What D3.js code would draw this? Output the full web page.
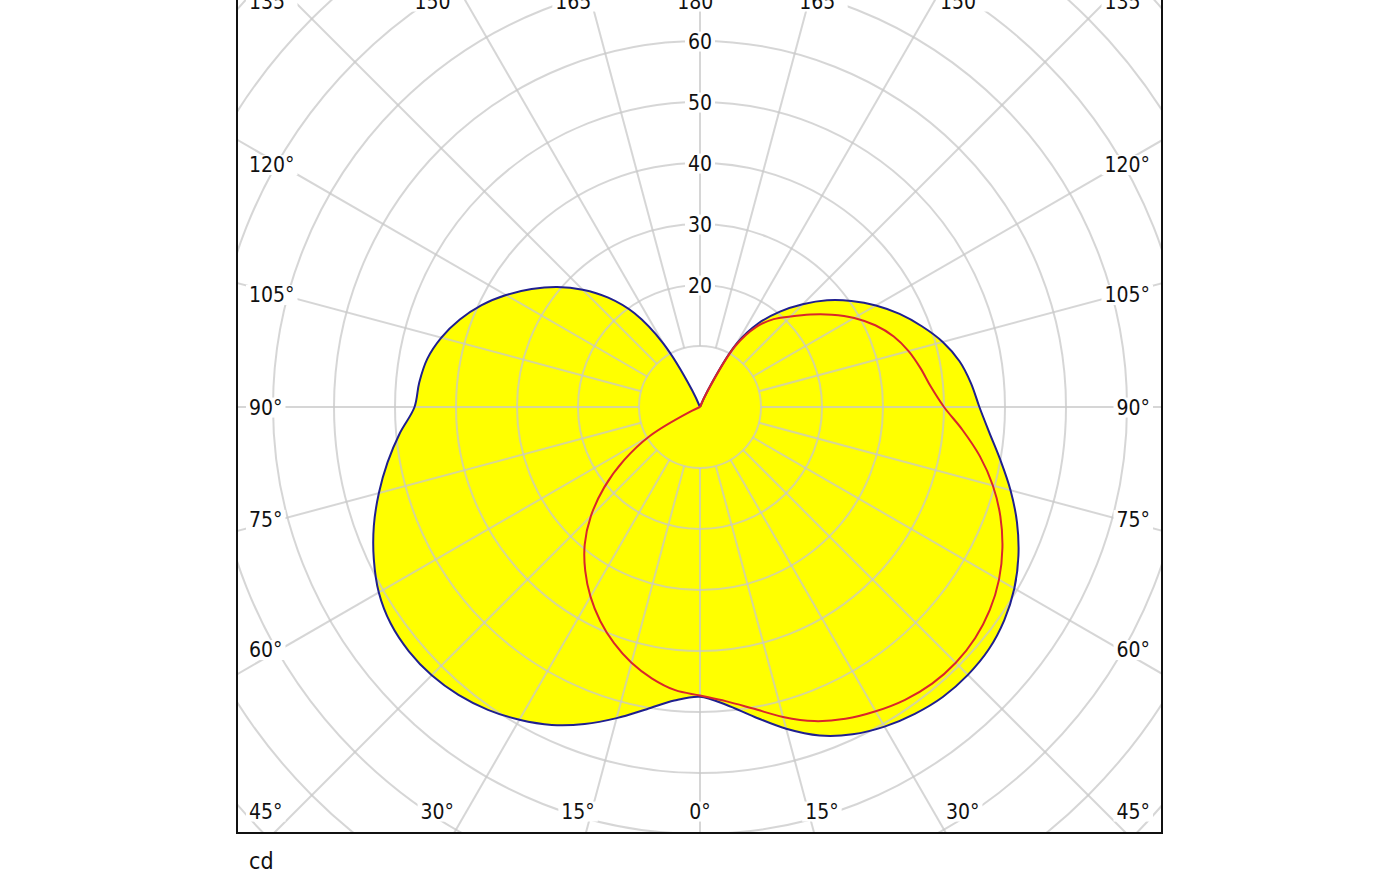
<!DOCTYPE html>
<html>
<head>
<meta charset="utf-8">
<script src="https://cdn.jsdelivr.net/npm/d3@7"></script>
<style>
  body { margin: 0; background: #fff; }
  svg text { font-family: "DejaVu Sans Condensed", "DejaVu Sans", sans-serif; font-stretch: condensed; fill: #111; }
</style>
</head>
<body>
<svg id="chart" width="1400" height="875"></svg>
<script>
// gamma angles (0 = straight down), degrees
const angles = [0, 5, 10, 15, 20, 25, 30, 35, 40, 45, 50, 55, 60, 65, 70, 75, 80, 85, 90,
  95, 100, 105, 110, 115, 120, 125, 130, 135, 140, 145, 150, 155, 160, 165, 170, 175, 180];
// blue plane, right half (cd)
const blueRight = [47.5, 49, 51.6, 54.6, 57.3, 59.2, 60.5, 61.4, 62, 62.1, 61.8, 60.9, 59.5, 57.6, 55.3, 52.7, 50, 47.6, 45.8,
  44.6, 43.2, 41.2, 38.7, 36.1, 33.3, 30.3, 27.2, 23.8, 20.4, 16.8, 12, 3, 0, 0, 0, 0, 0];
// blue plane, left half
const blueLeft = [47.5, 48.3, 50.3, 52.8, 55.3, 57.5, 59.2, 60.6, 61.6, 62.2, 62.3, 61.9, 60.8, 59, 56.9, 54.5, 52, 49.4, 46.8,
  46.2, 45.4, 43.9, 41.9, 39.5, 36.7, 33.7, 30.6, 27.2, 23.4, 18.8, 12, 3, 0, 0, 0, 0, 0];
// red plane, right half
const redRight = [47.3, 48.4, 50.2, 52.6, 54.8, 56.4, 57.6, 58.6, 59.2, 59.3, 58.9, 58, 56.6, 54.7, 52.4, 49.7, 46.6, 43.2, 40,
  38, 36.7, 35.4, 33.8, 31.7, 29.2, 26.4, 23.6, 21, 18.8, 16, 11.5, 2.5, 0, 0, 0, 0, 0];
// red plane, left half
const redLeft = [47.3, 46.6, 45.2, 43.4, 41.2, 38.7, 35.9, 32.8, 29.4, 25.3, 20.5, 15.2, 9.5, 1.5, 0, 0, 0, 0, 0,
  0, 0, 0, 0, 0, 0, 0, 0, 0, 0, 0, 0, 0, 0, 0, 0, 0, 0];
// rings and labels
const rings = [10, 20, 30, 40, 50, 60, 70, 80, 90, 100];
const ringLabels = [20, 30, 40, 50, 60];
const spokeAngles = d3.range(0, 360, 15);
const unit = 'cd';

const svg = d3.select('#chart');
const frame = { left: 237, right: 1162, top: -19, bottom: 833 };
const cx = 700, cy = 407;
const r = d3.scaleLinear().domain([0, 100]).range([0, 610]);

// clip everything to the frame
svg.append('clipPath').attr('id', 'clip').append('rect')
  .attr('x', frame.left).attr('y', frame.top)
  .attr('width', frame.right - frame.left).attr('height', frame.bottom - frame.top);

const g = svg.append('g').attr('clip-path', 'url(#clip)');
const plot = g.append('g').attr('transform', 'translate(' + cx + ',' + cy + ')');

// gamma to d3 radial angle, right side goes 0..180 as pi..0
const rad = d => d * Math.PI / 180;
function outline(right, left) {
  const pts = [];
  for (let i = angles.length - 1; i >= 0; i--) pts.push([Math.PI - rad(angles[i]), right[i]]);
  for (let i = 1; i < angles.length - 1; i++) pts.push([Math.PI + rad(angles[i]), left[i]]);
  return pts;
}
const line = d3.lineRadial()
  .angle(d => d[0])
  .radius(d => r(d[1]))
  .curve(d3.curveCatmullRomClosed.alpha(0.5));

// yellow fill of the blue plane
plot.append('path')
  .attr('d', line(outline(blueRight, blueLeft)))
  .attr('fill', '#ffff00');

// grid on top of the fill
const grid = plot.append('g').attr('stroke', '#c8c8c8').attr('stroke-opacity', 0.75)
  .attr('stroke-width', 2).attr('fill', 'none');
grid.selectAll('circle').data(rings).enter().append('circle').attr('r', d => r(d));
grid.selectAll('line').data(spokeAngles).enter().append('line')
  .attr('x1', d => r(10) * Math.sin(rad(d)))
  .attr('y1', d => r(10) * Math.cos(rad(d)))
  .attr('x2', d => r(120) * Math.sin(rad(d)))
  .attr('y2', d => r(120) * Math.cos(rad(d)));

// curves
plot.append('path')
  .attr('d', line(outline(blueRight, blueLeft)))
  .attr('fill', 'none').attr('stroke', '#1f1f8f').attr('stroke-width', 2);
plot.append('path')
  .attr('d', line(outline(redRight, redLeft)))
  .attr('fill', 'none').attr('stroke', '#d9262b').attr('stroke-width', 2);

// label with white box behind it
function label(parent, x, y, txt, anchor) {
  const t = parent.append('text').attr('x', x).attr('y', y).attr('dy', '0.36em')
    .attr('text-anchor', anchor).attr('font-size', 21).text(txt);
  const b = t.node().getBBox();
  parent.insert('rect', 'text:last-child')
    .attr('x', b.x - 3).attr('y', b.y + 2).attr('width', b.width + 6).attr('height', b.height - 4)
    .attr('fill', '#fff');
}

// ring values along the top spoke
const labels = g.append('g');
ringLabels.forEach(v => label(labels, cx, cy - r(v), v, 'middle'));

// angle labels round the frame
spokeAngles.forEach(a => {
  const right = a <= 180;
  const gam = right ? a : 360 - a;
  const deg = gam + '°';
  const sx = right ? 1 : -1;
  if (gam === 0 || gam === 180 || Math.abs(gam - 90) >= 45) {
    // top or bottom row
    const up = gam > 90;
    const y = up ? frame.top + 20 : frame.bottom - 22;
    const x = cx + sx * 455 * Math.tan(rad(up ? 180 - gam : gam));
    if (gam === 45 || gam === 135) {
      label(labels, right ? frame.right - 12 : frame.left + 12, y, deg, right ? 'end' : 'start');
    } else {
      label(labels, x, y, deg, 'middle');
    }
  } else {
    // side columns
    const y = cy + 420 * Math.tan(rad(90 - gam));
    label(labels, right ? frame.right - 12 : frame.left + 12, y, deg, right ? 'end' : 'start');
  }
});

// frame
svg.append('rect')
  .attr('x', frame.left).attr('y', frame.top)
  .attr('width', frame.right - frame.left).attr('height', frame.bottom - frame.top)
  .attr('fill', 'none').attr('stroke', '#111').attr('stroke-width', 2);

svg.append('text').attr('x', frame.left + 12).attr('y', 869)
  .attr('font-size', 23).text(unit);
</script>
</body>
</html>
